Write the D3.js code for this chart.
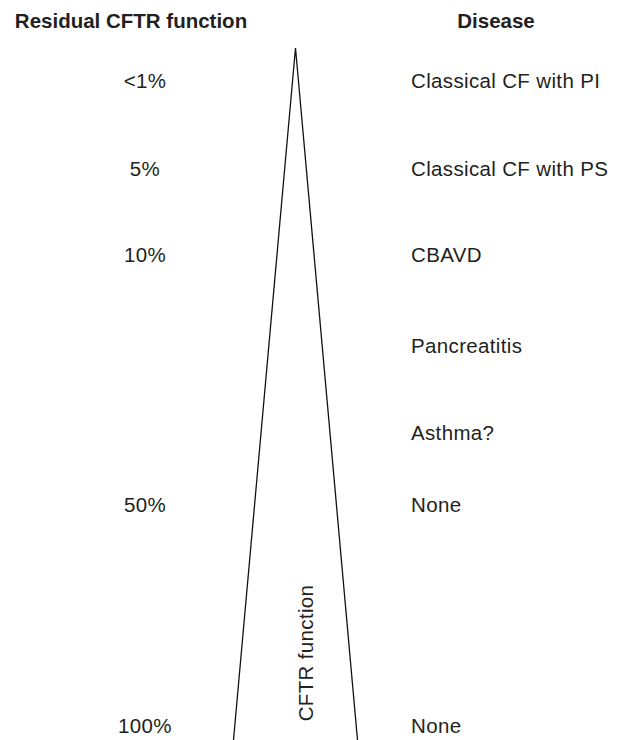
<!DOCTYPE html>
<html>
<head>
<meta charset="utf-8">
<script src="https://cdn.jsdelivr.net/npm/d3@7"></script>
<style>
  html, body { margin: 0; padding: 0; background: #fff; }
  text { font-family: "Liberation Sans", Arial, Helvetica, sans-serif; fill: #231f20; }
</style>
</head>
<body>
<svg id="chart" width="624" height="740"></svg>
<script>
// ---- data ----
const rows = ["r1", "r2", "r3", "r4", "r5", "r6", "r7"];
const residualLabels = ["<1%", "5%", "10%", "", "", "50%", "100%"];
const diseaseLabels = ["Classical CF with PI", "Classical CF with PS", "CBAVD", "Pancreatitis", "Asthma?", "None", "None"];
const headers = ["Residual CFTR function", "Disease"];
const wedgeLabel = "CFTR function";

// ---- layout ----
const W = 624, H = 740;
const svg = d3.select("#chart");
const fs = 20.5;
const ls = 0.35;

const y = d3.scaleOrdinal().domain(rows).range([88, 176, 262, 353, 440, 512, 733]);
const xCol = d3.scaleOrdinal().domain(["residual", "disease"]).range([145, 411]);

// headers
svg.append("text")
  .attr("x", 131).attr("y", 28)
  .attr("text-anchor", "middle")
  .attr("font-weight", "bold")
  .attr("font-size", fs)
  .text(headers[0]);
svg.append("text")
  .attr("x", 496).attr("y", 28)
  .attr("text-anchor", "middle")
  .attr("font-weight", "bold")
  .attr("font-size", fs)
  .text(headers[1]);

// residual labels
svg.append("g").selectAll("text")
  .data(rows.map((r, i) => ({ r, t: residualLabels[i] })).filter(d => d.t))
  .join("text")
  .attr("x", xCol("residual"))
  .attr("y", d => y(d.r))
  .attr("text-anchor", "middle")
  .attr("font-size", fs)
  .attr("letter-spacing", ls)
  .text(d => d.t);

// disease labels
svg.append("g").selectAll("text")
  .data(rows.map((r, i) => ({ r, t: diseaseLabels[i] })))
  .join("text")
  .attr("x", xCol("disease"))
  .attr("y", d => y(d.r))
  .attr("font-size", fs)
  .attr("letter-spacing", ls)
  .text(d => d.t);

// wedge (triangle, open at base)
const apex = [295.5, 48];
const baseY = H;
const baseHalf = 62;
const line = d3.line();
svg.append("path")
  .attr("d", line([[apex[0] - baseHalf, baseY], apex, [apex[0] + baseHalf, baseY]]))
  .attr("fill", "none")
  .attr("stroke", "#111")
  .attr("stroke-width", 1.3)
  .attr("stroke-linejoin", "miter");

// vertical label
svg.append("text")
  .attr("transform", "translate(312.5,653) rotate(-90)")
  .attr("text-anchor", "middle")
  .attr("font-size", fs)
  .attr("letter-spacing", ls)
  .text(wedgeLabel);
</script>
</body>
</html>
